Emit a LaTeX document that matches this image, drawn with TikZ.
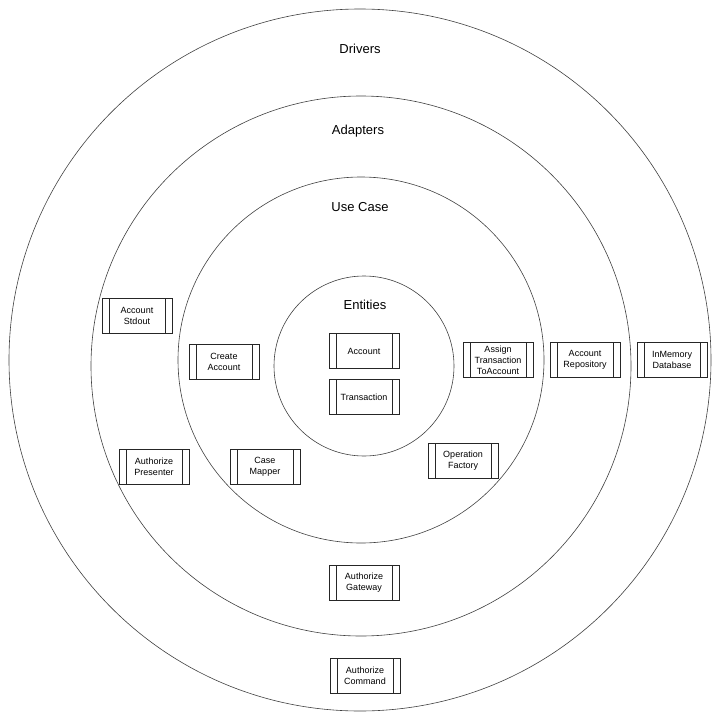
\documentclass[tikz,border=0pt]{standalone}
\usepackage{fontspec}
\setmainfont{Liberation Sans}
\usepackage{tikz}

\tikzset{
  ring/.style={draw=black!75, line width=0.6pt},
  ringlabel/.style={font=\fontsize{13}{15}\selectfont},
  procbox/.style={draw=black!85, line width=0.6pt, fill=white,
    minimum width=70pt, minimum height=35pt, inner sep=0pt, align=center,
    font=\fontsize{9}{11}\selectfont,
    path picture={
      \draw[black!85, line width=0.6pt]
        ([xshift=7pt]path picture bounding box.north west) -- ([xshift=7pt]path picture bounding box.south west)
        ([xshift=-7pt]path picture bounding box.north east) -- ([xshift=-7pt]path picture bounding box.south east);
    }}
}

\begin{document}
\begin{tikzpicture}[x=10pt,y=10pt]
\useasboundingbox (0,0) rectangle (72,-72);
% layers
\draw [ring] (36.0,-36.0) circle (35.1);
\draw [ring] (36.1,-36.6) circle (27.0);
\draw [ring] (36.1,-36.0) circle (18.3);
\draw [ring] (36.4,-36.6) circle (9.0);
\node [ringlabel] (drivers) at (36.0,-4.9) {Drivers};
\node [ringlabel] (adapters) at (35.8,-13.1) {Adapters};
\node [ringlabel] (usecase) at (36.0,-20.7) {Use Case};
\node [ringlabel] (entities) at (36.5,-30.5) {Entities};
% entities
\node [procbox] (account) at (36.4,-35.1) {Account};
\node [procbox] (transaction) at (36.4,-39.7) {Transaction};
% use cases
\node [procbox] (createacc) at (22.4,-36.2) {Create\\Account};
\node [procbox] (assigntx) at (49.8,-36.0) {Assign\\Transaction\\ToAccount};
\node [procbox] (casemapper) at (26.5,-46.7) {Case\\Mapper};
\node [procbox] (opfactory) at (46.3,-46.1) {Operation\\Factory};
% adapters
\node [procbox] (accstdout) at (13.7,-31.6) {Account\\Stdout};
\node [procbox] (accrepo) at (58.5,-36.0) {Account\\Repository};
\node [procbox] (authpresenter) at (15.4,-46.7) {Authorize\\Presenter};
\node [procbox] (authgateway) at (36.4,-58.3) {Authorize\\Gateway};
% drivers
\node [procbox] (inmemdb) at (67.2,-36.0) {InMemory\\Database};
\node [procbox] (authcommand) at (36.5,-67.6) {Authorize\\Command};
\end{tikzpicture}
\end{document}
